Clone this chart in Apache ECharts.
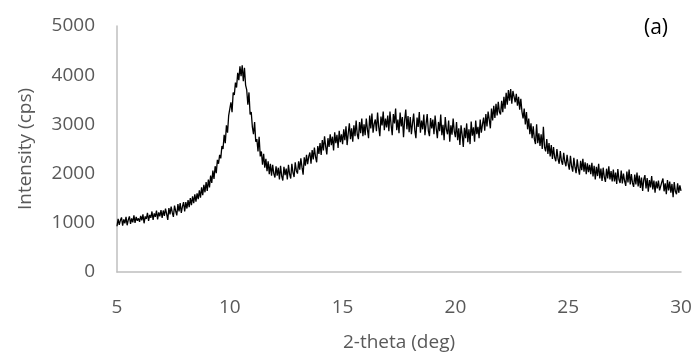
<!DOCTYPE html>
<html><head><meta charset="utf-8">
<script src="https://cdn.jsdelivr.net/npm/echarts@6/dist/echarts.min.js"></script>
<style>html,body{margin:0;padding:0;background:#fff}#c{width:695px;height:354px}</style>
</head><body><div id="c"></div>
<script>
// 2-theta sampling: start 5 deg, step 0.05 deg
const thetaStart = 5;
const thetaStep = 0.05;
const xTicks = [5, 10, 15, 20, 25, 30];
const yTicks = [0, 1000, 2000, 3000, 4000, 5000];
const intensity = [
// 5.00-5.95
930,1080,960,1050,1110,940,1070,990,1120,950,1060,1130,980,1090,1010,1150,1000,1120,1040,1090,
// 6
1020,1140,1050,1170,990,1130,1080,1200,1040,1160,1100,1230,1060,1190,1120,1250,1070,1210,1130,1260,
// 7
1100,1250,1140,1290,1180,1060,1300,1170,1330,1210,1120,1350,1240,1150,1380,1230,1400,1200,1330,1420,
// 8
1230,1420,1290,1460,1320,1500,1360,1540,1400,1580,1430,1600,1480,1660,1510,1720,1560,1770,1620,1830,
// 9
1650,1880,1720,1960,1810,2060,1890,2150,2010,2280,2200,2380,2310,2560,2500,2790,2620,2980,2830,3180,
// 10
3150,3450,3250,3650,3600,3850,3750,4050,3900,4180,3980,4200,3880,4150,3800,3700,3400,3650,3200,3250,
// 11
2950,2800,3050,2650,2700,2450,2750,2350,2450,2180,2400,2120,2300,2050,2250,1990,2200,1960,2180,2000,
// 12
1920,2150,1960,2120,1880,2160,1950,1860,2140,1970,2100,1880,2180,1990,1900,2200,2020,1930,2230,2060,
// 13
2000,2250,2080,2310,2130,1980,2330,2160,2380,2190,2350,2430,2200,2480,2290,2530,2340,2230,2560,2400,
// 14
2620,2380,2680,2470,2760,2550,2390,2720,2540,2800,2580,2750,2470,2840,2620,2790,2520,2870,2640,2800,
// 15
2600,2900,2680,2960,2580,2820,3020,2700,2920,2650,2980,2760,3080,2800,2700,3050,2820,3120,2760,3000,
// 16
2780,3120,2900,2720,3180,2920,3220,2830,3010,3100,2860,3240,2950,2760,3160,2980,3260,2880,3120,2940,
// 17
3180,2860,3260,2990,2780,3210,3020,3320,2880,3100,2820,3240,2960,3150,2740,3090,3300,2900,3170,2840,
// 18
3150,2800,3020,3220,2880,2720,3140,2950,3250,2830,3080,2900,3200,2780,3010,3210,2870,2760,3130,2920,
// 19
3100,2800,3180,2920,2720,3050,2860,3200,2780,2990,2680,3150,2900,2800,3080,2650,2980,2790,3120,2860,
// 20
2740,3050,2680,2920,2580,2980,2790,2540,2930,2720,3020,2640,2900,2600,3060,2770,2940,2650,3080,2800,
// 21
2950,2720,3100,2830,3000,3140,2870,3210,2960,3260,3100,2920,3320,3080,3380,3130,3420,3180,3460,3250,
// 22
3200,3480,3250,3560,3320,3640,3400,3700,3480,3720,3420,3680,3660,3450,3620,3380,3560,3300,3520,3260,
// 23
3120,3320,3000,3250,2900,3120,2800,3020,2720,2960,2700,2600,3000,2620,2820,2560,2800,2500,2950,2540,
// 24
2450,2700,2400,2620,2350,2580,2300,2540,2330,2250,2500,2300,2200,2460,2260,2180,2420,2240,2150,2380,
// 25
2200,2080,2360,2150,2040,2320,2130,2010,2290,2100,1980,2260,2070,2300,2040,2230,1990,2210,2030,2180,
// 26
1990,2220,1940,2160,1880,2140,1950,2200,1900,2100,1850,2120,1930,1830,2100,1900,2150,1880,2050,1840,
// 27
2080,1840,2020,1790,2090,1880,1810,2060,1800,2000,1850,1750,2040,1820,2080,1780,1990,1810,1730,1980,
// 28
1780,2020,1740,1960,1710,1920,1650,1880,1970,1700,1910,1630,1870,1720,1950,1680,1860,1610,1840,1700,
// 29
1860,1660,1620,1830,1900,1640,1800,1580,1870,1660,1840,1610,1790,1520,1830,1640,1580,1800,1610,1760,
// 30
1650
];
const xTitle = '2-theta (deg)';
const yTitle = 'Intensity (cps)';
const panelLabel = '(a)';

const pts = intensity.map((v, i) => [+(thetaStart + i * thetaStep).toFixed(2), v]);
const FONT = '"Open Sans", "Liberation Sans", sans-serif';
const chart = echarts.init(document.getElementById('c'), null, {renderer: 'canvas'});
chart.setOption({
  animation: false,
  backgroundColor: '#ffffff',
  title: {
    text: panelLabel, right: 22, top: 13,
    textStyle: {fontFamily: FONT, fontSize: 21, fontWeight: 'normal', color: '#000'}
  },
  grid: {left: 117, right: 14, top: 26, bottom: 82, containLabel: false, outerBoundsMode: 'none'},
  xAxis: {
    type: 'value', min: xTicks[0], max: xTicks[xTicks.length - 1], interval: 5,
    name: xTitle, nameLocation: 'middle', nameGap: 61,
    nameTextStyle: {fontFamily: FONT, fontSize: 19, color: '#595959'},
    axisLine: {show: true, lineStyle: {color: '#bfbfbf', width: 1.5}},
    axisTick: {show: false}, splitLine: {show: false},
    axisLabel: {fontFamily: FONT, fontSize: 19, color: '#595959', margin: 26, formatter: v => String(v)}
  },
  yAxis: {
    type: 'value', min: yTicks[0], max: yTicks[yTicks.length - 1], interval: 1000,
    name: yTitle, nameLocation: 'middle', nameGap: 82,
    nameTextStyle: {fontFamily: FONT, fontSize: 19, color: '#595959'},
    axisLine: {show: true, lineStyle: {color: '#bfbfbf', width: 1.5}},
    axisTick: {show: false}, splitLine: {show: false},
    axisLabel: {fontFamily: FONT, fontSize: 19, color: '#595959', margin: 22, formatter: v => String(v)}
  },
  series: [{
    type: 'line', data: pts, showSymbol: false, symbol: 'none',
    lineStyle: {color: '#000', width: 1.3}, clip: false
  }]
});
</script></body></html>
